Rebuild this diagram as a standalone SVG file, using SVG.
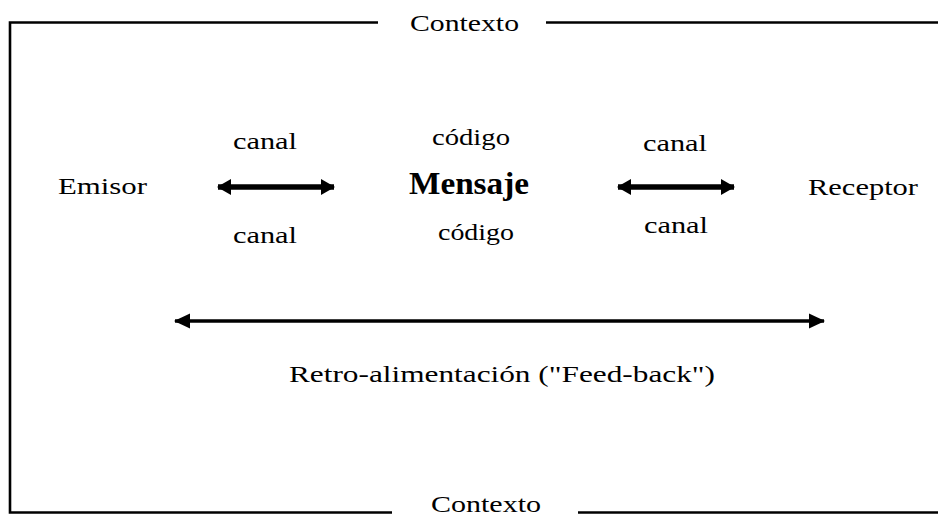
<svg xmlns="http://www.w3.org/2000/svg" width="938" height="518" viewBox="0 0 938 518">
<style>
  text { font-family: "Liberation Serif", "Times New Roman", serif; fill: #000; }
  .t { font-size: 24px; }
  .big { font-size: 32px; font-weight: bold; }
  .frame { stroke: #000; stroke-width: 2.6; fill: none; }
  .thick { stroke: #000; stroke-width: 5.5; fill: none; }
  .thin { stroke: #000; stroke-width: 3.5; fill: none; }
</style>
<defs>
  <marker id="hs" markerUnits="userSpaceOnUse" markerWidth="16" markerHeight="20" refX="13" refY="10" orient="auto-start-reverse" viewBox="0 0 16 20">
    <path d="M0,2 L14,10 L0,18 Z" fill="#000"/>
  </marker>
  <marker id="hl" markerUnits="userSpaceOnUse" markerWidth="18" markerHeight="20" refX="15" refY="10" orient="auto-start-reverse" viewBox="0 0 18 20">
    <path d="M0,2.5 L16,10 L0,17.5 Z" fill="#000"/>
  </marker>
</defs>
<rect width="938" height="518" fill="#fff"/>
<g id="frame">
  <path class="frame" d="M378,22.5 H10 V512.5 H392"/>
  <path class="frame" d="M546,22.5 H938"/>
  <path class="frame" d="M578,512.5 H938"/>
  <text class="t" x="410" y="31" textLength="109" lengthAdjust="spacingAndGlyphs">Contexto</text>
  <text class="t" x="431" y="512" textLength="110" lengthAdjust="spacingAndGlyphs">Contexto</text>
</g>
<g id="emisor">
  <text class="t" x="58" y="194" textLength="89" lengthAdjust="spacingAndGlyphs">Emisor</text>
</g>
<g id="mensaje">
  <text class="big" x="409" y="194" textLength="120" lengthAdjust="spacingAndGlyphs">Mensaje</text>
  <text class="t" x="432" y="145" textLength="78" lengthAdjust="spacingAndGlyphs">código</text>
  <text class="t" x="438" y="240" textLength="76" lengthAdjust="spacingAndGlyphs">código</text>
</g>
<g id="receptor">
  <text class="t" x="808" y="195" textLength="110" lengthAdjust="spacingAndGlyphs">Receptor</text>
</g>
<g id="feedback">
  <text class="t" x="289" y="382" textLength="426" lengthAdjust="spacingAndGlyphs">Retro-alimentación ("Feed-back")</text>
</g>
<g id="connectors">
  <path class="thick" d="M218,187 H334" marker-start="url(#hs)" marker-end="url(#hs)"/>
  <path class="thick" d="M618,187 H734" marker-start="url(#hs)" marker-end="url(#hs)"/>
  <path class="thin" d="M175,321 H824" marker-start="url(#hl)" marker-end="url(#hl)"/>
  <text class="t" x="233" y="149" textLength="64" lengthAdjust="spacingAndGlyphs">canal</text>
  <text class="t" x="233" y="243" textLength="64" lengthAdjust="spacingAndGlyphs">canal</text>
  <text class="t" x="643" y="151" textLength="64" lengthAdjust="spacingAndGlyphs">canal</text>
  <text class="t" x="644" y="233" textLength="64" lengthAdjust="spacingAndGlyphs">canal</text>
</g>
</svg>
